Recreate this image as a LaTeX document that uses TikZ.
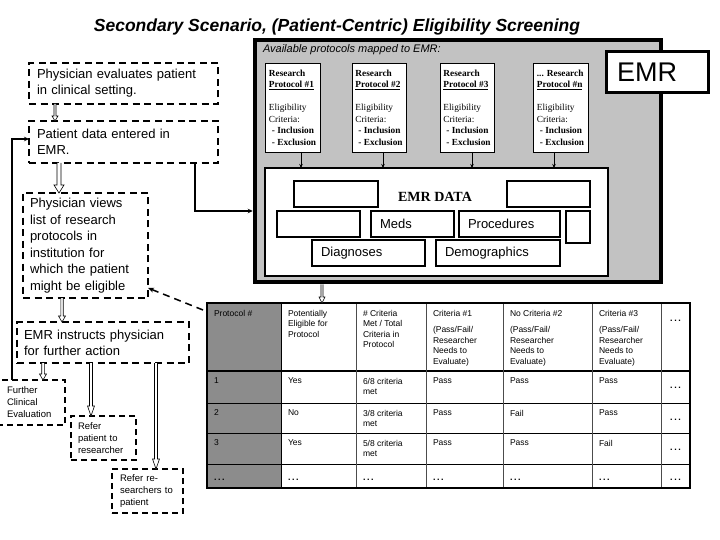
\documentclass[tikz,border=0pt]{standalone}
\usepackage{fontspec}
\setmainfont{Liberation Sans}
\newfontfamily\timesf{Liberation Serif}
\usetikzlibrary{arrows.meta,calc}
\newcommand\mydots{.\hspace{1.6pt}.\hspace{1.6pt}.}
\begin{document}
\begin{tikzpicture}[x=1pt,y=-1pt,outer sep=0pt,
  dbox/.style={draw=black, line width=1.3pt, dash pattern=on 7pt off 4.5pt, fill=white, anchor=north west, align=left, inner ysep=0pt},
  bigtxt/.style={font=\fontsize{13}{16}\selectfont},
  smalltxt/.style={font=\fontsize{9.5}{12}\selectfont},
  pbox/.style={draw=black, line width=0.8pt, fill=white, anchor=north west, minimum height=89pt, inner xsep=3pt, inner ysep=0pt, align=left, font=\timesf\fontsize{9.3}{11.5}\selectfont},
  ibox/.style={draw=black, line width=1.5pt, fill=white, anchor=north west, inner ysep=0pt, inner xsep=9pt, align=left, minimum height=26pt, font=\fontsize{13}{15}\selectfont},
  cell/.style={anchor=north west, inner sep=0pt, align=left, font=\fontsize{8.5}{10.5}\selectfont},
  dots/.style={anchor=base, inner sep=0pt, font=\fontsize{9}{10}\selectfont\bfseries},
  dotsw/.style={anchor=base west, inner sep=0pt, font=\fontsize{9}{10}\selectfont\bfseries},
  conn/.style={draw=black, line width=1.3pt, -{Stealth[length=5pt,width=4.5pt]}},
  parrow/.style={draw=black, line width=0.7pt, -{Stealth[length=4pt,width=3.5pt]}},
  dashconn/.style={draw=black, line width=1.5pt, dash pattern=on 7pt off 5pt, -{Stealth[length=6pt,width=5pt]}},
  hollow/.style n args={3}{draw=black, fill=white, line width=0.6pt, to path={let \p1=(\tikztostart), \p2=(\tikztotarget) in (\x1-#1pt,\y1) -- (\x1-#1pt,\y2+#3pt) -- (\x1-#2pt,\y2+#3pt) -- (\x1,\y2) -- (\x1+#2pt,\y2+#3pt) -- (\x1+#1pt,\y2+#3pt) -- (\x1+#1pt,\y1)}},
]
\useasboundingbox (0,0) rectangle (720,540);
\fill[white] (0,0) rectangle (720,540);

% title
\node[anchor=base, inner sep=0pt, font=\fontsize{17.5}{20}\selectfont\bfseries\itshape] (title) at (337,31.5) {Secondary Scenario, (Patient-Centric) Eligibility Screening};

% EMR panel
\node[draw=black, line width=4.5pt, outer sep=2.25pt, fill=black!24, anchor=north west, minimum width=406pt, minimum height=242pt, inner sep=0pt] (panel) at (252.75,37.75) {};
\node[anchor=west, inner sep=0pt, font=\fontsize{11}{13}\selectfont\itshape] (avail) at (263,50) {Available protocols mapped to EMR:};
\node[draw=black, line width=3pt, fill=white, anchor=north west, minimum width=102pt, minimum height=41pt, text width=80pt, inner xsep=11pt, inner ysep=0pt, align=left, font=\fontsize{27}{30}\selectfont] (emr) at (606,52) {EMR};

% protocol boxes
\node[pbox, minimum width=55pt] (P1) at (265,63) {\textbf{Research}\\\textbf{\underline{Protocol \#1}}\\[11.5pt]Eligibility\\Criteria:\\\hspace*{3pt}\textbf{- Inclusion}\\\hspace*{3pt}\textbf{- Exclusion}};
\node[pbox, minimum width=54pt] (P2) at (352,63) {\textbf{Research}\\\textbf{\underline{Protocol \#2}}\\[11.5pt]Eligibility\\Criteria:\\\hspace*{3pt}\textbf{- Inclusion}\\\hspace*{3pt}\textbf{- Exclusion}};
\node[pbox, minimum width=54pt] (P3) at (440,63) {\textbf{Research}\\\textbf{\underline{Protocol \#3}}\\[11.5pt]Eligibility\\Criteria:\\\hspace*{3pt}\textbf{- Inclusion}\\\hspace*{3pt}\textbf{- Exclusion}};
\node[pbox, minimum width=55pt] (P4) at (533,63) {\textbf{... Research}\\\textbf{\underline{Protocol \#n}}\\[11.5pt]Eligibility\\Criteria:\\\hspace*{3pt}\textbf{- Inclusion}\\\hspace*{3pt}\textbf{- Exclusion}};

% EMR data
\node[draw=black, line width=1.5pt, fill=white, anchor=north west, minimum width=343pt, minimum height=108pt, inner sep=0pt] (data) at (265,168) {};
\node[ibox, minimum width=84pt] (d1) at (294,181) {};
\node[ibox, minimum width=83pt] (d2) at (507,181) {};
\node[anchor=center, inner sep=0pt, font=\timesf\fontsize{14}{16}\selectfont\bfseries] (dt) at (435,197) {EMR DATA};
\node[ibox, minimum width=83pt] (d3) at (277,211) {};
\node[ibox, minimum width=83pt, text width=65pt] (meds) at (371,211) {Meds};
\node[ibox, minimum width=101pt, text width=83pt] (proc) at (459,211) {Procedures};
\node[ibox, minimum width=24pt, minimum height=32pt, inner xsep=0pt] (d4) at (566,211) {};
\node[ibox, minimum width=113pt, text width=95pt] (diag) at (312,240) {Diagnoses};
\node[ibox, minimum width=124pt, text width=106pt] (demo) at (436,240) {Demographics};

\draw[parrow] (301,0 |- P1.south) -- (301,0 |- data.north);
\draw[parrow] (383,0 |- P2.south) -- (383,0 |- data.north);
\draw[parrow] (472,0 |- P3.south) -- (472,0 |- data.north);
\draw[parrow] (554,0 |- P4.south) -- (554,0 |- data.north);

% left column
\node[dbox, bigtxt, minimum width=189pt, minimum height=41pt, text width=173pt, inner xsep=8pt] (A) at (29,63) {Physician evaluates patient\\in clinical setting.};
\node[dbox, bigtxt, minimum width=189pt, minimum height=42pt, text width=173pt, inner xsep=8pt] (B) at (29,121) {Patient data entered in\\EMR.};
\node[dbox, font=\fontsize{13}{16.5}\selectfont, minimum width=125pt, minimum height=105pt, text width=111pt, inner xsep=7pt] (C) at (23,193) {Physician views\\list of research\\protocols in\\institution for\\which the patient\\might be eligible};
\node[dbox, bigtxt, minimum width=172pt, minimum height=41pt, text width=158pt, inner xsep=7pt] (D) at (17,322) {EMR instructs physician\\for further action};
\node[dbox, smalltxt, dash pattern=on 6pt off 4pt, minimum width=68pt, minimum height=45pt, text width=48pt, inner xsep=10pt] (E) at (-3,380) {Further\\Clinical\\Evaluation};
\node[dbox, smalltxt, dash pattern=on 6pt off 4pt, minimum width=65pt, minimum height=44pt, text width=51pt, inner xsep=7pt] (F) at (71,416) {Refer\\patient to\\researcher};
\node[dbox, smalltxt, dash pattern=on 6pt off 4pt, minimum width=71pt, minimum height=44pt, text width=55pt, inner xsep=8pt] (G) at (112,469) {Refer re-\\searchers to\\patient};

% table
\node[draw=black, line width=2pt, fill=white, anchor=north west, minimum width=483pt, minimum height=185pt, inner sep=0pt] (tbl) at (207,303) {};
\fill[black!45] (tbl.north west) rectangle (281,0 |- tbl.south);
\draw[line width=1.3pt] (tbl.west |- 0,371) -- (tbl.east |- 0,371);
\foreach \yy in {403,433,464} \draw[line width=1pt] (tbl.west |- 0,\yy) -- (tbl.east |- 0,\yy);
\draw[line width=1pt] (281,0 |- tbl.north) -- (281,0 |- tbl.south);
\foreach \xx in {356,426,503,592,661} \draw[line width=0.7pt, black!70] (\xx,0 |- tbl.north) -- (\xx,0 |- tbl.south);
\draw[line width=2pt] (tbl.north west) rectangle (tbl.south east);

\node[cell] (h0) at (214,310) {Protocol \#};
\node[cell] (h1) at (288,310) {Potentially\\Eligible for\\Protocol};
\node[cell] (h2) at (363,310) {\# Criteria\\Met / Total\\Criteria in\\Protocol};
\node[cell] (h3) at (433,310) {Criteria \#1\\[6pt](Pass/Fail/\\Researcher\\Needs to\\Evaluate)};
\node[cell] (h4) at (510,310) {No Criteria \#2\\[6pt](Pass/Fail/\\Researcher\\Needs to\\Evaluate)};
\node[cell] (h5) at (599,310) {Criteria \#3\\[6pt](Pass/Fail/\\Researcher\\Needs to\\Evaluate)};
\node[dots] (h6) at (675.5,321) {\mydots};

\foreach \r/\yy/\a/\b/\c/\d/\e/\f in {1/378/1/Yes/6/Pass/Pass/Pass, 2/410/2/No/3/Pass/Fail/Pass, 3/440/3/Yes/5/Pass/Pass/Fail}{
  \node[cell] (r\r c0) at (214,\yy) {\a};
  \node[cell] (r\r c1) at (288,\yy) {\b};
  \node[cell] (r\r c2) at (363,\yy) {\c/8 criteria\\met};
  \node[cell] (r\r c3) at (433,\yy) {\d};
  \node[cell] (r\r c4) at (510,\yy) {\e};
  \node[cell] (r\r c5) at (599,\yy) {\f};
  \node[dots] (r\r c6) at (675.5,\yy+10) {\mydots};
}
\foreach \i/\xx in {0/214,1/288,2/363,3/433,4/510,5/599}{
  \node[dotsw] (r4c\i) at (\xx,480) {\mydots};
}
\node[dots] (r4c6) at (675.5,480) {\mydots};

% connectors
\draw[hollow={1}{3}{5}] (55,0 |- A.south) to (55,0 |- B.north);
\draw[hollow={2}{5}{8}] (59,0 |- B.south) to (59,0 |- C.north);
\draw[hollow={1.2}{3.5}{6}] (62,0 |- C.south) to (62,0 |- D.north);
\draw[hollow={1.3}{3.5}{6}] (43,0 |- D.south) to (43,0 |- E.north);
\draw[hollow={1.5}{3.5}{10}] (91,0 |- D.south) to (91,0 |- F.north);
\draw[hollow={1.5}{3.5}{10}] (156,0 |- D.south) to (156,0 |- G.north);
\draw[hollow={1}{3}{6}] (322,0 |- panel.south) to (322,0 |- tbl.north);
\draw[conn] (195,0 |- B.south) |- (panel.west |- 0,211);
\draw[conn] (12,0 |- E.north) |- (B.west |- 0,139);
\draw[dashconn] ($(tbl.north west)+(-4,7)$) -- (C.east |- 0,288);
\end{tikzpicture}
\end{document}
